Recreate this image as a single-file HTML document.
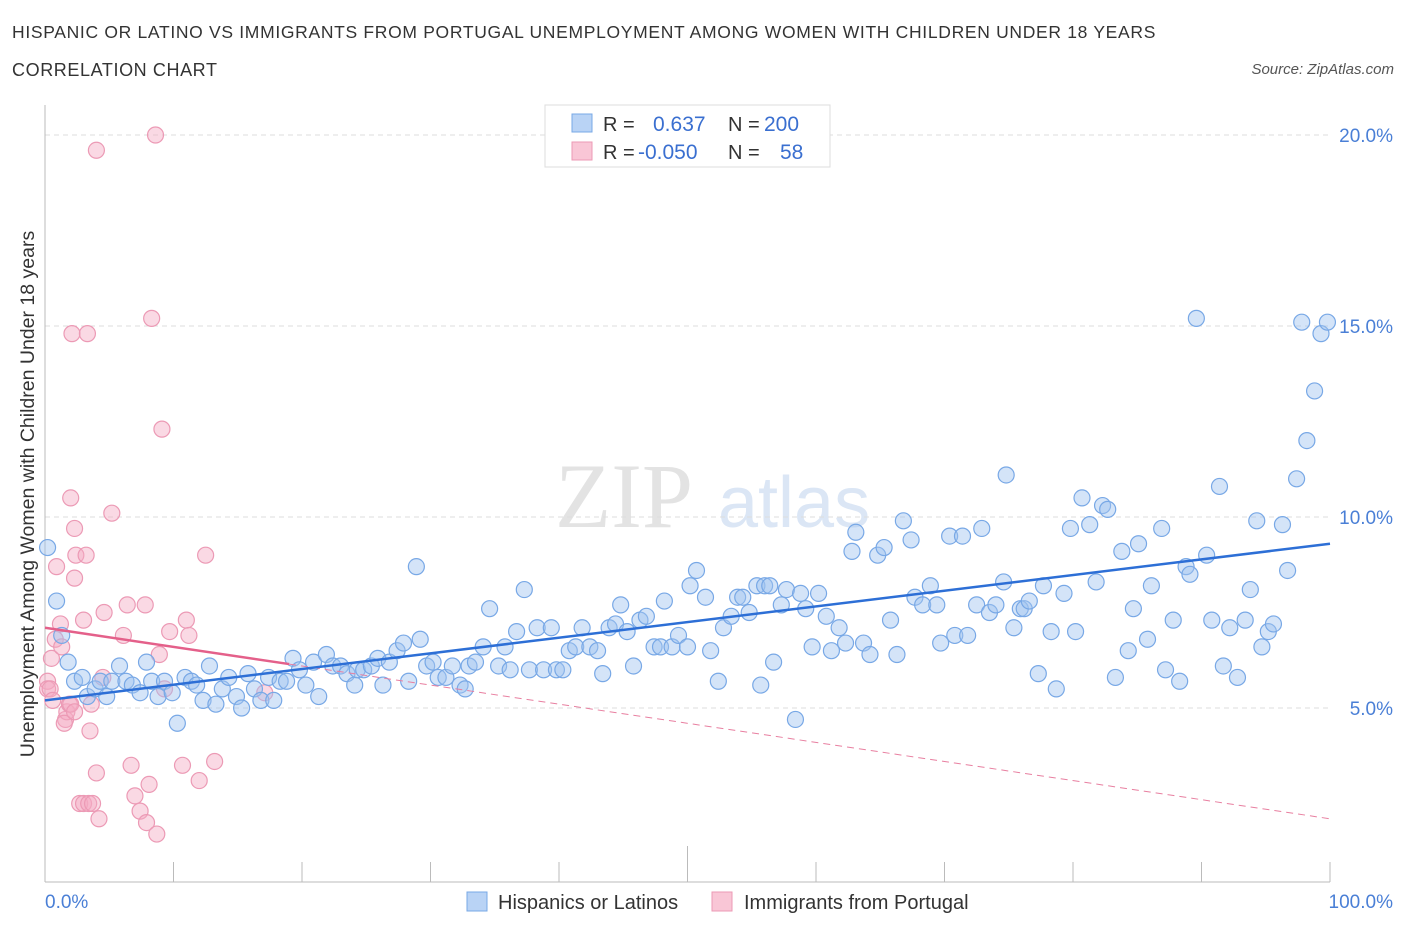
<!DOCTYPE html>
<html><head><meta charset="utf-8">
<style>
body{margin:0;background:#fff;font-family:"Liberation Sans",sans-serif;}
#wrap{position:relative;width:1406px;height:930px;overflow:hidden;}
.t{position:absolute;white-space:nowrap;}
</style></head>
<body>
<div id="wrap">
<div class="t" style="left:12px;top:22px;font-size:17.5px;color:#333;letter-spacing:0.68px">HISPANIC OR LATINO VS IMMIGRANTS FROM PORTUGAL UNEMPLOYMENT AMONG WOMEN WITH CHILDREN UNDER 18 YEARS</div>
<div class="t" style="left:12px;top:60px;font-size:18px;color:#333;letter-spacing:0.6px">CORRELATION CHART</div>
<div class="t" style="right:12px;top:61px;font-size:15px;color:#555;font-style:italic">Source: ZipAtlas.com</div>
<svg id="svg" width="1406" height="930" style="position:absolute;left:0;top:0"></svg>
</div>
<script>
const blueX=[0.2,0.9,1.3,1.8,2.3,2.9,3.3,3.9,4.3,4.8,5.2,5.8,6.3,6.8,7.4,7.9,8.3,8.8,9.3,9.9,10.3,10.9,11.4,11.8,12.3,12.8,13.3,13.8,14.3,14.9,15.3,15.8,16.3,16.8,17.4,17.8,18.3,18.8,19.3,19.8,20.3,20.9,21.3,21.9,22.4,23.0,23.5,24.1,24.3,24.8,25.4,25.9,26.3,26.8,27.4,27.9,28.3,28.9,29.2,29.7,30.2,30.6,31.2,31.7,32.3,32.7,33.0,33.5,34.1,34.6,35.3,35.8,36.2,36.7,37.3,37.7,38.3,38.8,39.4,39.8,40.3,40.8,41.3,41.8,42.4,43.0,43.4,43.9,44.4,44.8,45.3,45.8,46.3,46.8,47.4,47.9,48.2,48.8,49.3,50.0,50.2,50.7,51.4,51.8,52.4,52.8,53.4,53.9,54.3,54.8,55.4,55.7,56.0,56.4,56.7,57.3,57.7,58.4,58.8,59.2,59.7,60.2,60.8,61.2,61.8,62.3,62.8,63.1,63.7,64.2,64.8,65.3,65.8,66.3,66.8,67.4,67.7,68.3,68.9,69.4,69.7,70.4,70.8,71.4,71.8,72.5,72.9,73.5,74.0,74.6,74.8,75.4,75.9,76.2,76.6,77.3,77.7,78.3,78.7,79.3,79.8,80.2,80.7,81.3,81.8,82.3,82.7,83.3,83.8,84.3,84.7,85.1,85.8,86.1,86.9,87.2,87.8,88.3,88.8,89.1,89.6,90.4,90.8,91.4,91.7,92.2,92.8,93.4,93.8,94.3,94.7,95.2,95.6,96.3,96.7,97.4,97.8,98.2,98.8,99.3,99.8];
const blueY=[9.2,7.8,6.9,6.2,5.7,5.8,5.3,5.5,5.7,5.3,5.7,6.1,5.7,5.6,5.4,6.2,5.7,5.3,5.7,5.4,4.6,5.8,5.7,5.6,5.2,6.1,5.1,5.5,5.8,5.3,5.0,5.9,5.5,5.2,5.8,5.2,5.7,5.7,6.3,6.0,5.6,6.2,5.3,6.4,6.1,6.1,5.9,5.6,6.0,6.0,6.1,6.3,5.6,6.2,6.5,6.7,5.7,8.7,6.8,6.1,6.2,5.8,5.8,6.1,5.6,5.5,6.1,6.2,6.6,7.6,6.1,6.6,6.0,7.0,8.1,6.0,7.1,6.0,7.1,6.0,6.0,6.5,6.6,7.1,6.6,6.5,5.9,7.1,7.2,7.7,7.0,6.1,7.3,7.4,6.6,6.6,7.8,6.6,6.9,6.6,8.2,8.6,7.9,6.5,5.7,7.1,7.4,7.9,7.9,7.5,8.2,5.6,8.2,8.2,6.2,7.7,8.1,4.7,8.0,7.6,6.6,8.0,7.4,6.5,7.1,6.7,9.1,9.6,6.7,6.4,9.0,9.2,7.3,6.4,9.9,9.4,7.9,7.7,8.2,7.7,6.7,9.5,6.9,9.5,6.9,7.7,9.7,7.5,7.7,8.3,11.1,7.1,7.6,7.6,7.8,5.9,8.2,7.0,5.5,8.0,9.7,7.0,10.5,9.8,8.3,10.3,10.2,5.8,9.1,6.5,7.6,9.3,6.8,8.2,9.7,6.0,7.3,5.7,8.7,8.5,15.2,9.0,7.3,10.8,6.1,7.1,5.8,7.3,8.1,9.9,6.6,7.0,7.2,9.8,8.6,11.0,15.1,12.0,13.3,14.8,15.1];
const pinkX=[0.2,0.2,0.5,0.8,0.9,1.2,1.3,1.6,1.7,1.9,2.0,2.1,2.3,2.3,2.4,2.7,3.0,3.0,3.2,3.3,3.4,3.5,3.7,4.0,4.0,4.2,4.5,4.6,5.2,6.1,6.4,6.7,7.0,7.4,7.8,7.9,8.1,8.3,8.6,8.7,8.9,9.1,9.3,9.7,10.7,11.0,11.2,12.0,12.5,13.2,17.1,0.4,0.6,1.5,2.0,2.3,3.6];
const pinkY=[5.7,5.5,6.3,6.8,8.7,7.2,6.6,4.7,4.9,5.1,10.5,14.8,9.7,8.4,9.0,2.5,7.3,2.5,9.0,14.8,2.5,4.4,2.5,3.3,19.6,2.1,5.8,7.5,10.1,6.9,7.7,3.5,2.7,2.3,7.7,2.0,3.0,15.2,20.0,1.7,6.4,12.3,5.5,7.0,3.5,7.3,6.9,3.1,9.0,3.6,5.4,5.5,5.2,4.6,5.1,4.9,5.1];
const blueTrend=[5.2,9.3]; // value at x=0 and x=100
const pinkTrend=[7.1,2.1]; const pinkSolidEnd=19;
const yTicks=[5,10,15,20];
const xTickVals=[0,10,20,30,40,50,60,70,80,90,100];

const X0=45,X1=1330,Y0=899,YPER=38.2;
const sx=v=>X0+(X1-X0)*v/100, sy=v=>Y0-v*YPER;
const svg=document.getElementById('svg');const NS='http://www.w3.org/2000/svg';
function mk(tag,a,parent){const e=document.createElementNS(NS,tag);for(const k in a)e.setAttribute(k,a[k]);(parent||svg).appendChild(e);return e;}
let w=mk('text',{x:555,y:527,'font-size':92,'font-family':'Liberation Serif',fill:'#e3e3e3'});w.textContent='ZIP';


let w2=mk('text',{x:718,y:527,'font-size':72,'font-family':'Liberation Sans',fill:'#dbe6f5'});w2.textContent='atlas';


yTicks.forEach(v=>{const g=mk('line',{x1:X0,x2:X1,y1:sy(v),y2:sy(v),stroke:'#ddd','stroke-dasharray':'5,4'});


const t=mk('text',{x:1393,y:sy(v)+7,'text-anchor':'end','font-size':19,fill:'#4a7fd6'});t.textContent=v.toFixed(1)+'%';

});
let ax=mk('line',{x1:X0,x2:X0,y1:105,y2:882,stroke:'#bbb'});


let axx=mk('line',{x1:X0,x2:X1,y1:882,y2:882,stroke:'#bbb'});


xTickVals.forEach(v=>{const tk=mk('line',{x1:sx(v),x2:sx(v),y1:v==50?846:862,y2:882,stroke:'#bbb'});

});
let xl0=mk('text',{x:45,y:908,'font-size':19,fill:'#4a7fd6'});xl0.textContent='0.0%';


let xl1=mk('text',{x:1393,y:908,'text-anchor':'end','font-size':19,fill:'#4a7fd6'});xl1.textContent='100.0%';


let yt=mk('text',{x:0,y:0,'font-size':19.5,fill:'#333',transform:'translate(34,494) rotate(-90)','text-anchor':'middle'});yt.textContent='Unemployment Among Women with Children Under 18 years';


pinkX.forEach((x,i)=>{const c=mk('circle',{cx:sx(x),cy:sy(pinkY[i]),r:8,fill:'rgba(244,170,195,0.45)',stroke:'#ec9ab5','stroke-width':1.2});

});
blueX.forEach((x,i)=>{const c=mk('circle',{cx:sx(x),cy:sy(blueY[i]),r:8,fill:'rgba(160,196,240,0.45)',stroke:'#78a8e6','stroke-width':1.2});

});
const pv=x=>pinkTrend[0]+(pinkTrend[1]-pinkTrend[0])*x/100;
let pd=mk('line',{x1:sx(pinkSolidEnd),y1:sy(pv(pinkSolidEnd)),x2:sx(100),y2:sy(pv(100)),stroke:'#e87fa0','stroke-width':1,'stroke-dasharray':'7,5'});


let ps=mk('line',{x1:sx(0),y1:sy(pv(0)),x2:sx(pinkSolidEnd),y2:sy(pv(pinkSolidEnd)),stroke:'#e4608a','stroke-width':2.5});


let bl=mk('line',{x1:sx(0),y1:sy(blueTrend[0]),x2:sx(100),y2:sy(blueTrend[1]),stroke:'#2d6fd6','stroke-width':2.5});


let lg=mk('rect',{x:545,y:105,width:285,height:62,fill:'#fff',stroke:'#ddd'});


let s1=mk('rect',{x:572,y:114,width:20,height:18,fill:'#b9d3f5',stroke:'#78a8e6'});


let s2=mk('rect',{x:572,y:142,width:20,height:18,fill:'#f9c6d6',stroke:'#ec9ab5'});


function lt(x,y,s,c,name,fs){const t=mk('text',{x:x,y:y,'font-size':fs||21,fill:c});t.textContent=s;

}
lt(603,131,'R =','#333','r-label-1',20);lt(653,131,'0.637','#3a6fd0','r-value-hispanic');lt(728,131,'N =','#333','n-label-1',20);lt(764,131,'200','#3a6fd0','n-value-hispanic');
lt(603,159,'R =','#333','r-label-2',20);lt(638,159,'-0.050','#3a6fd0','r-value-portugal');lt(728,159,'N =','#333','n-label-2',20);lt(780,159,'58','#3a6fd0','n-value-portugal');
let b1=mk('rect',{x:467,y:892,width:20,height:19,fill:'#b9d3f5',stroke:'#78a8e6'});


lt(498,909,'Hispanics or Latinos','#333','bottom-legend-hispanic',20);
let b2=mk('rect',{x:712,y:892,width:20,height:19,fill:'#f9c6d6',stroke:'#ec9ab5'});


lt(744,909,'Immigrants from Portugal','#333','bottom-legend-portugal',20);
</script>
</body></html>
